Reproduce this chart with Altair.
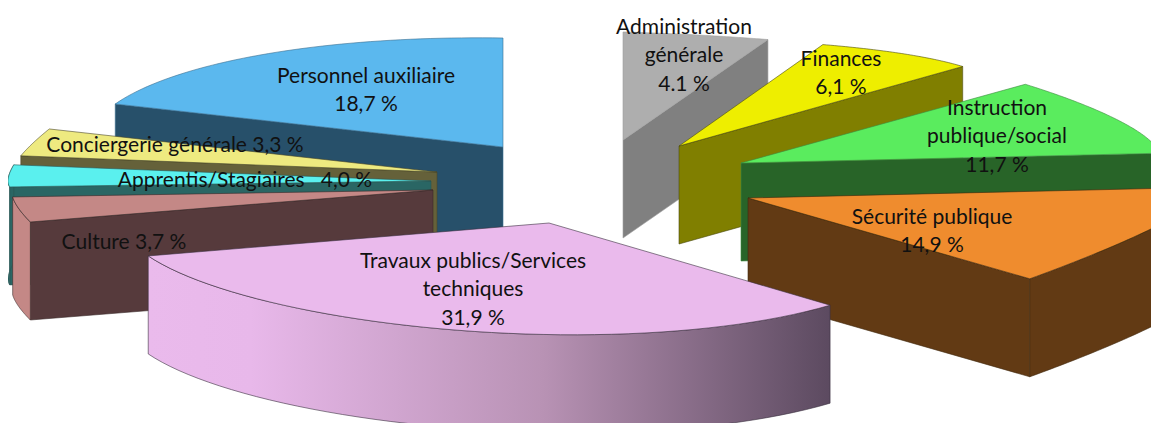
import math
import altair as alt

# ---- chart values ----
categories = ["Administration générale", "Finances", "Instruction publique/social",
              "Sécurité publique", "Travaux publics/Services techniques", "Culture",
              "Apprentis/Stagiaires", "Conciergerie générale", "Personnel auxiliaire"]
values = [4.1, 6.1, 11.7, 14.9, 31.9, 3.7, 4.0, 3.3, 18.7]
label_lines = [
    ["Administration", "générale", "4.1 %"],
    ["Finances", "6,1 %"],
    ["Instruction", "publique/social", "11,7 %"],
    ["Sécurité publique", "14,9 %"],
    ["Travaux publics/Services", "techniques", "31,9 %"],
    ["Culture 3,7 %"],
    ["Apprentis/Stagiaires\u00a0\u00a0\u00a04,0 %"],
    ["Conciergerie générale 3,3 %"],
    ["Personnel auxiliaire", "18,7 %"],
]
top_colors = ["#AEAEAE", "#EEEE00", "#5AEC5E", "#EF8C2E", "#EABAEC", "#C48886", "#5AF0EE", "#EEEA80", "#5BB8EE"]
side_colors = ["#808080", "#807F00", "#286428", "#623A14", "#EABAEC", "#563A3C", "#2A6664", "#65613A", "#27506A"]
rim_colors = ["#808080", "#807F00", "#286428", "#623A14", "#EABAEC", "#C48886", "#2A6664", "#65613A", "#27506A"]
edge_colors = ["#A0A0A0", "#4A4A10", "#3C8A40", "#40280E", "#3A3040", "#3A2A2A", "#2A5554", "#4A4728", "#3A6F90"]

# ---- layout: perspective / explosion of each slice (page pixels) ----
# apex, radius x at both ends of the sweep, radius y at both ends
view = [
    ((623, 140), (560, 560), (108, 104)),
    ((679, 146), (556, 468), (105, 100)),
    ((741, 163), (469, 424), (99, 57)),
    ((748, 198), (467, 396), (63, 115)),
    ((549, 223), (395, 423), (117, 103)),
    ((433, 190), (425, 422), (100, 78)),
    ((431, 181), (423, 423), (66, 98)),
    ((437, 172), (422, 417), (98, 117)),
    ((503, 147), (417, 417), (117, 109)),
]
DEPTH = 98
FACE_T = [1, 1, 1, 1, None, 0, 0, 0, 0]      # which radial edge is visible
OUTER = [False, False, False, True, True, True, True, False, False]  # rim visible
DRAW_ORDER = [8, 7, 6, 5, 0, 1, 2, 3]
label_pos = [
    (684, [28, 56, 85]), (841, [60, 88]), (997, [109, 137, 166]),
    (932, [218, 246]), (473, [262, 290, 319]), (124, [243]),
    (245, [181]), (175, [146]), (366, [77, 105]),
]
OFF = 8
total = sum(values)
bounds = [0.0]
for v in values:
    bounds.append(bounds[-1] + v / total * 2 * math.pi)


def point(i, t):
    (ax, ay), (r0, r1), (k0, k1) = view[i]
    a = bounds[i] + t * (bounds[i + 1] - bounds[i])
    return [ax + (r0 + t * (r1 - r0)) * math.sin(a) - OFF,
            ay - (k0 + t * (k1 - k0)) * math.cos(a) - OFF]


def apex(i):
    (ax, ay) = view[i][0]
    return [ax - OFF, ay - OFF]


def arc(i, n=48):
    return [point(i, j / n) for j in range(n + 1)]


def down(p):
    return [p[0], p[1] + DEPTH]


def feature(ring, fill, stroke):
    ring = ring + [ring[0]]
    return {"type": "Feature", "geometry": {"type": "Polygon", "coordinates": [ring]},
            "fillc": fill, "strokec": stroke}


def slice_faces(i):
    out = []
    if FACE_T[i] is not None:
        e = point(i, FACE_T[i])
        a = apex(i)
        out.append(feature([a, e, down(e), down(a)], side_colors[i], edge_colors[i]))
    if OUTER[i]:
        rim = arc(i)
        out.append(feature(rim + [down(p) for p in reversed(rim)], rim_colors[i], edge_colors[i]))
    out.append(feature([apex(i)] + arc(i), top_colors[i], edge_colors[i]))
    return out


features = []
for i in DRAW_ORDER:
    features += slice_faces(i)

back = alt.Chart(alt.Data(values=features)).mark_geoshape(strokeWidth=0.6).encode(
    fill=alt.Color("fillc:N", scale=None),
    stroke=alt.Color("strokec:N", scale=None),
).project(type="identity", scale=1, translate=[0, 0])

T = 4
rim = arc(T)
rim_chart = alt.Chart(alt.Data(values=[feature(rim + [down(p) for p in reversed(rim)], "", "")])).mark_geoshape(
    stroke=edge_colors[T], strokeWidth=0.6,
    fill=alt.LinearGradient(gradient="linear", x1=0, x2=1, y1=0, y2=0, stops=[
        alt.GradientStop(color="#EABAEC", offset=0),
        alt.GradientStop(color="#E8B8EA", offset=0.15),
        alt.GradientStop(color="#B892B4", offset=0.58),
        alt.GradientStop(color="#5C4A60", offset=1),
    ]),
).project(type="identity", scale=1, translate=[0, 0])

top = alt.Chart(alt.Data(values=[feature([apex(T)] + arc(T), top_colors[T], edge_colors[T])])).mark_geoshape(
    strokeWidth=0.6, fill=top_colors[T], stroke=edge_colors[T],
).project(type="identity", scale=1, translate=[0, 0])

rows = []
for lines, (x, ys) in zip(label_lines, label_pos):
    for line, y in zip(lines, ys):
        rows.append({"t": line, "px": x - OFF, "py": y - OFF})

labels = alt.Chart(alt.Data(values=rows)).mark_text(
    font="Lato", fontSize=21, color="#111111", align="center", baseline="middle",
).encode(
    x=alt.X("px:Q", scale=None, axis=None),
    y=alt.Y("py:Q", scale=None, axis=None),
    text="t:N",
)

chart = alt.layer(back, rim_chart, top, labels).properties(
    width=1143, height=415, padding=0,
    autosize=alt.AutoSizeParams(type="none"),
).configure_view(stroke=None)

chart.save("out.html", embed_options={"renderer": "svg", "actions": False})
